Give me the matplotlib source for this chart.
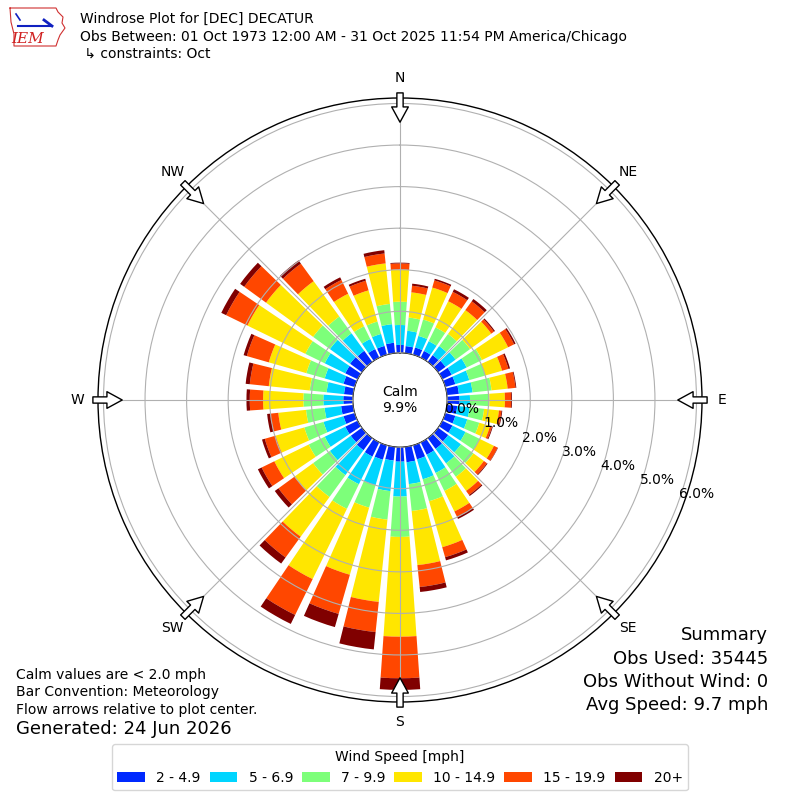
import matplotlib
matplotlib.use("Agg")
import matplotlib.pyplot as plt
import numpy as np

# direction bins (degrees, meteorological) and speed bins
directions = np.arange(0, 360, 10)
speed_labels = ["2 - 4.9", "5 - 6.9", "7 - 9.9", "10 - 14.9", "15 - 19.9", "20+"]

# frequency [%] of each speed bin per direction
spd_2_5 = [0.19, 0.17, 0.18, 0.18, 0.20, 0.22, 0.25, 0.25, 0.29, 0.30, 0.25, 0.25,
           0.27, 0.30, 0.32, 0.33, 0.35, 0.37, 0.35, 0.33, 0.36, 0.38, 0.36, 0.33,
           0.33, 0.28, 0.29, 0.23, 0.22, 0.28, 0.33, 0.35, 0.33, 0.23, 0.22, 0.25]
spd_5_7 = [0.48, 0.37, 0.29, 0.26, 0.27, 0.30, 0.40, 0.35, 0.33, 0.25, 0.30, 0.30,
           0.35, 0.38, 0.43, 0.49, 0.50, 0.53, 0.84, 0.74, 0.64, 0.74, 0.74, 0.62,
           0.55, 0.50, 0.40, 0.48, 0.42, 0.47, 0.55, 0.60, 0.52, 0.27, 0.30, 0.45]
spd_7_10 = [0.56, 0.32, 0.41, 0.37, 0.36, 0.43, 0.41, 0.40, 0.46, 0.47, 0.35, 0.30,
            0.38, 0.37, 0.40, 0.48, 0.55, 0.65, 0.97, 0.69, 0.56, 0.66, 0.65, 0.50,
            0.43, 0.48, 0.45, 0.48, 0.41, 0.46, 0.52, 0.50, 0.50, 0.34, 0.31, 0.49]
spd_10_15 = [0.77, 0.61, 0.80, 0.70, 0.71, 0.63, 0.70, 0.42, 0.39, 0.37, 0.36, 0.27,
             0.38, 0.31, 0.42, 0.55, 1.15, 1.31, 2.40, 1.99, 1.68, 1.88, 1.18, 0.55,
             0.92, 0.72, 0.67, 0.97, 0.99, 0.94, 1.55, 1.40, 1.05, 0.87, 0.78, 0.98]
spd_15_20 = [0.15, 0.16, 0.18, 0.25, 0.26, 0.08, 0.16, 0.16, 0.19, 0.15, 0.06, 0.05,
             0.10, 0.09, 0.12, 0.15, 0.25, 0.53, 1.00, 0.73, 0.98, 0.96, 0.62, 0.48,
             0.34, 0.27, 0.19, 0.32, 0.46, 0.55, 0.57, 0.65, 0.52, 0.37, 0.24, 0.24]
spd_20p = [0.02, 0.05, 0.04, 0.07, 0.07, 0.03, 0.04, 0.04, 0.02, 0.02, 0.02, 0.02,
           0.01, 0.02, 0.03, 0.05, 0.08, 0.12, 0.28, 0.42, 0.33, 0.24, 0.18, 0.11,
           0.10, 0.07, 0.08, 0.08, 0.10, 0.08, 0.13, 0.12, 0.10, 0.07, 0.05, 0.08]

calm_pct = 9.9
obs_used = 35445
obs_without_wind = 0
avg_speed = 9.7

compass_dirs = [0, 45, 90, 135, 180, 225, 270, 315]
compass_labels = ["N", "NE", "E", "SE", "S", "SW", "W", "NW"]
ring_values = [0, 1, 2, 3, 4, 5, 6]

speeds = [spd_2_5, spd_5_7, spd_7_10, spd_10_15, spd_15_20, spd_20p]
colors = plt.cm.jet(np.arange(1, 7) / 6.0)

fig = plt.figure(figsize=(8, 8), dpi=100)
ax = fig.add_axes([0.1225, 0.1225, 0.755, 0.755], projection="polar")
ax.set_theta_zero_location("N")
ax.set_theta_direction(-1)
ax.set_axisbelow(False)

theta = np.deg2rad(directions)
width = np.deg2rad(10) * 0.8
bottom = np.zeros(len(directions))
bars = []
for vals, col, lab in zip(speeds, colors, speed_labels):
    vals = np.array(vals)
    b = ax.bar(theta, vals, width=width, bottom=bottom, color=col, label=lab,
               zorder=2)
    bars.append(b)
    bottom = bottom + vals

rmax = bottom.max() * 1.05
ax.set_ylim(0, rmax)
ax.set_rorigin(-0.185 * rmax)

ax.set_thetagrids(compass_dirs, compass_labels, fontsize=10)
ax.tick_params(axis="x", pad=4)
ax.set_rgrids(ring_values, labels=["%.1f%%" % v for v in ring_values],
              angle=110, fontsize=10)
ax.grid(True, color="#b0b0b0", lw=0.8)
ax.spines["polar"].set_linewidth(1.0)

ax.text(0.5, 0.5, "Calm\n%.1f%%" % calm_pct, transform=ax.transAxes,
        ha="center", va="center", fontsize=10)

# flow arrows pointing at the plot center
for d in compass_dirs:
    t = np.deg2rad(d)
    ax.annotate("", xy=(t, rmax * 0.905), xytext=(t, rmax * 1.02),
                annotation_clip=False,
                arrowprops=dict(arrowstyle="simple,head_length=11,head_width=12,tail_width=4.5",
                                mutation_scale=1, fc="white", ec="black", lw=1.0,
                                shrinkA=0, shrinkB=0, clip_on=False),
                zorder=5)

# header
fig.text(0.1, 1 - 19 / 800, "Windrose Plot for [DEC] DECATUR", fontsize=10, va="center")
fig.text(0.1, 1 - 37 / 800,
         "Obs Between: 01 Oct 1973 12:00 AM - 31 Oct 2025 11:54 PM America/Chicago",
         fontsize=10, va="center")
fig.text(0.1, 1 - 54 / 800, " \u21b3 constraints: Oct", fontsize=10, va="center")

# logo
lax = fig.add_axes([8 / 800, 1 - 50 / 800, 58 / 800, 44 / 800])
lax.set_xlim(0, 58)
lax.set_ylim(0, 44)
lax.axis("off")
outline_x = [2, 48, 50, 55, 54, 57, 52, 50, 48, 6, 6, 3, 2]
outline_y = [42, 42, 38, 33, 27, 22, 15, 10, 4, 4, 16, 28, 42]
lax.plot(outline_x, outline_y, color="#d03030", lw=0.8)
lax.text(20, 11, "IEM", color="#d02020", fontsize=11, family="serif",
         style="italic", ha="center", va="center")
lax.plot([10, 42], [24, 24], color="#1020c0", lw=1.5)
lax.plot([8, 12], [36, 30], color="#1020c0", lw=1.2)
lax.plot([36, 44], [30, 24], color="#1020c0", lw=2.0)

# footer left
fig.text(16 / 800, 1 - 675 / 800, "Calm values are < 2.0 mph", fontsize=10, va="center")
fig.text(16 / 800, 1 - 692 / 800, "Bar Convention: Meteorology", fontsize=10, va="center")
fig.text(16 / 800, 1 - 710 / 800, "Flow arrows relative to plot center.", fontsize=10,
         va="center")
fig.text(16 / 800, 1 - 729 / 800, "Generated: 24 Jun 2026", fontsize=13, va="center")

# summary right
summary = ["Summary", "Obs Used: %s" % obs_used,
           "Obs Without Wind: %s" % obs_without_wind,
           "Avg Speed: %.1f mph" % avg_speed]
for i, s in enumerate(summary):
    fig.text(768 / 800, 1 - (635 + 23.5 * i) / 800, s, fontsize=13, ha="right",
             va="center")

fig.legend(handles=[b[0] for b in bars], labels=speed_labels, loc="lower center",
           bbox_to_anchor=(0.5, 0.012), ncol=6, fontsize=10,
           title="Wind Speed [mph]", title_fontsize=10, columnspacing=0.65,
           borderaxespad=0)

fig.savefig("out.png", dpi=100)
